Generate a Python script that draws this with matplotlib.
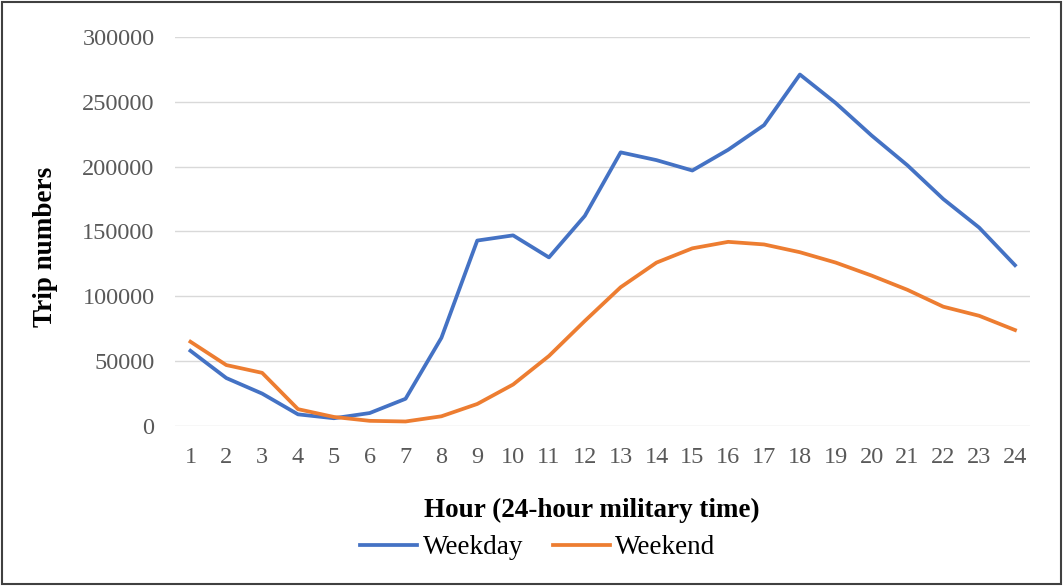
import numpy as np
import matplotlib.pyplot as plt
from matplotlib.patches import Rectangle

# Data
hours = list(range(1, 25))
weekday = [58000, 37000, 25000, 9000, 6000, 10000, 21000, 68000, 143000, 147000,
           130000, 162000, 211000, 205000, 197000, 213000, 232000, 271000, 249000,
           224000, 201000, 175000, 153000, 124000]
weekend = [65000, 47000, 41000, 13000, 7000, 4000, 3500, 7500, 17000, 32000,
           54000, 81000, 107000, 126000, 137000, 142000, 140000, 134000, 126000,
           116000, 105000, 92000, 85000, 74000]
yticks = [0, 50000, 100000, 150000, 200000, 250000, 300000]

plt.rcParams['font.family'] = ['Liberation Serif', 'DejaVu Serif']

fig = plt.figure(figsize=(10.63, 5.86), dpi=100)
ax = fig.add_axes([0.165, 0.273, 0.804, 0.664])

ax.plot(hours, weekday, color='#4472C4', lw=2.7, label='Weekday', solid_joinstyle='round')
ax.plot(hours, weekend, color='#ED7D31', lw=2.7, label='Weekend', solid_joinstyle='round')

ax.set_xlim(0.58, 24.42)
ax.set_ylim(0, 300000)
ax.set_xticks(hours)
ax.set_yticks(yticks)
ax.set_yticklabels([str(v) for v in yticks])
ax.grid(axis='y', color='#D9D9D9', lw=1)
ax.set_axisbelow(True)
for s in ax.spines.values():
    s.set_visible(False)
ax.tick_params(length=0, labelsize=17.5, colors='#595959')
ax.tick_params(axis='x', pad=15)
ax.tick_params(axis='y', pad=15)

ax.set_xlabel('Hour (24-hour military time)', fontsize=19.5, fontweight='bold')
ax.xaxis.label.set_va('center')
ax.xaxis.set_label_coords(0.487, -0.216)
ax.set_ylabel('Trip numbers', fontsize=19.5, fontweight='bold')
ax.yaxis.label.set_va('center')
ax.yaxis.set_label_coords(-0.152, 0.46)

fig.legend(loc='center', bbox_to_anchor=(0.506, 0.065), ncol=2, frameon=False,
           fontsize=19.5, handlelength=2.1, columnspacing=1.1, handletextpad=0.2)

# outer border
fig.patches.append(Rectangle((0.002, 0.003), 0.996, 0.994, transform=fig.transFigure,
                             fill=False, edgecolor='#404040', lw=1.5))

fig.savefig('out.png', dpi=100)
